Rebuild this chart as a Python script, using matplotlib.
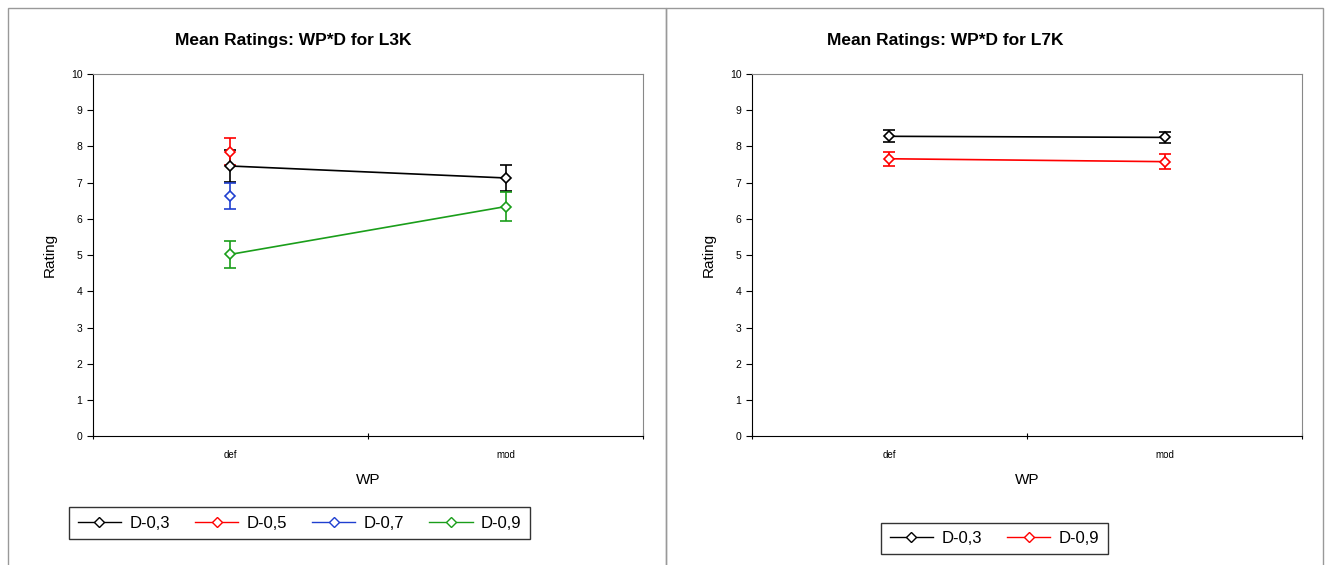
import matplotlib.pyplot as plt
from matplotlib.lines import Line2D
from matplotlib.patches import Rectangle

plt.rcParams['font.family'] = ['Liberation Sans', 'DejaVu Sans']

wp = ['def', 'mod']

# L3K panel: (label, colour, x indices, means, error)
l3k = [
    ('D-0,3', 'black', [0, 1], [7.46, 7.13], [0.45, 0.36]),
    ('D-0,5', 'red', [0], [7.86], [0.37]),
    ('D-0,7', '#1f3fd0', [0], [6.63], [0.37]),
    ('D-0,9', '#1a9e1a', [0, 1], [5.02, 6.34], [0.37, 0.39]),
]
# L7K panel
l7k = [
    ('D-0,3', 'black', [0, 1], [8.28, 8.25], [0.17, 0.16]),
    ('D-0,9', 'red', [0, 1], [7.66, 7.58], [0.2, 0.2]),
]

fig = plt.figure(figsize=(13.26, 5.65), dpi=100)


def panel(left, title, title_x, series, leg_box):
    ax = fig.add_axes([left, 0.228, 0.415, 0.641])
    for name, col, xs, ys, err in series:
        ax.errorbar([x + 0.5 for x in xs], ys, yerr=err, color=col, lw=1.2,
                    marker='D', ms=5.5, mfc='white', mec=col, mew=1.2,
                    capsize=4, elinewidth=1.2, capthick=1.2, label=name)
    ax.set_xlim(0, 2)
    ax.set_ylim(0, 10)
    ax.set_yticks(range(0, 11))
    ax.set_xticks([0, 1, 2])
    ax.set_xticklabels([])
    ax.set_xticks([0.5, 1.5], minor=True)
    ax.set_xticklabels(wp, minor=True)
    ax.tick_params(axis='x', which='minor', length=0, labelsize=7, pad=10)
    ax.tick_params(axis='x', which='major', length=4, direction='inout')
    ax.tick_params(axis='y', labelsize=7.5, length=4, direction='out')
    for s in ax.spines.values():
        s.set_color('#888888')
        s.set_linewidth(0.8)
    ax.spines['left'].set_color('black')
    ax.spines['bottom'].set_color('black')
    ax.set_xlabel('WP', fontsize=11, labelpad=9)
    ax.set_ylabel('Rating', fontsize=11, labelpad=10)
    fig.text(title_x, 0.929, title, fontsize=12.5, fontweight='bold',
             ha='center', va='center')
    handles = [Line2D([], [], color=c, lw=1, marker='D', ms=5, mfc='white', mec=c)
               for _, c, _, _, _ in series]
    leg = fig.legend(handles, [s[0] for s in series], ncol=len(series),
                     loc='center', bbox_to_anchor=leg_box, fontsize=12,
                     frameon=True, fancybox=False, edgecolor='black',
                     handlelength=2.6, handletextpad=0.5, columnspacing=1.5,
                     borderpad=0.5)
    leg.get_frame().set_linewidth(1.0)
    return ax


panel(0.07, 'Mean Ratings: WP*D for L3K', 0.221, l3k, (0.226, 0.074))
panel(0.567, 'Mean Ratings: WP*D for L7K', 0.713, l7k, (0.750, 0.047))

# outer chart frames
fig.add_artist(Rectangle((0.006, -0.1), 0.496, 1.085, transform=fig.transFigure,
                         fill=False, ec='#999999', lw=1))
fig.add_artist(Rectangle((0.502, -0.1), 0.496, 1.085, transform=fig.transFigure,
                         fill=False, ec='#999999', lw=1))

fig.savefig('out.png', dpi=100)
